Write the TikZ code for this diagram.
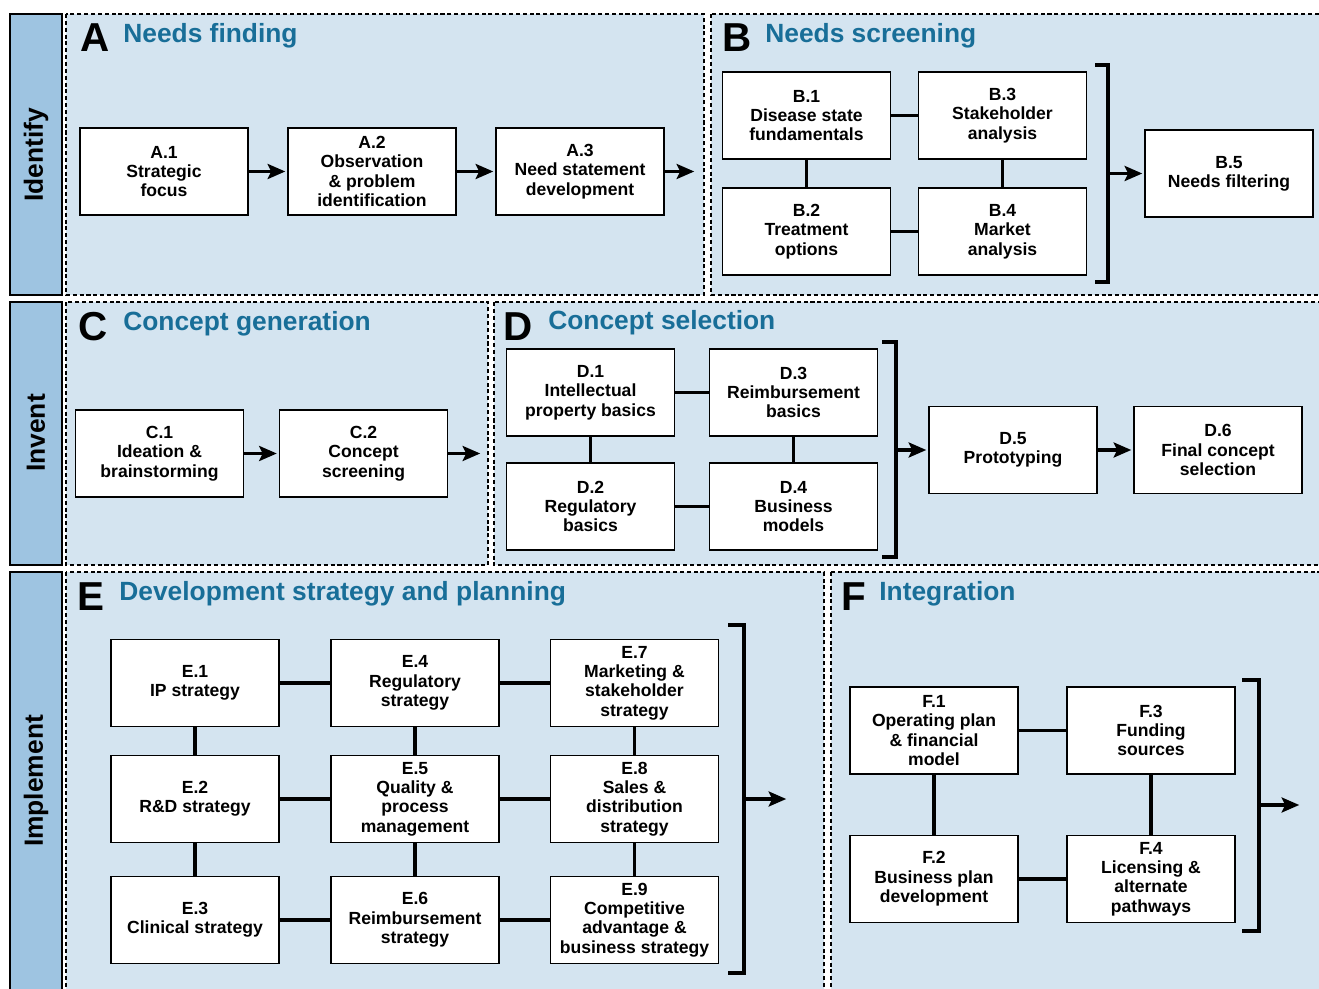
\documentclass[tikz,border=0pt]{standalone}
\usepackage{fontspec}
\setmainfont{Liberation Sans}
\usetikzlibrary{arrows.meta}

\definecolor{panelblue}{RGB}{212,228,240}
\definecolor{sideblue}{RGB}{158,196,225}
\definecolor{titleblue}{RGB}{24,110,152}

\tikzset{
	stage/.style={draw=black, line width=1.1pt, fill=white, align=center,
		minimum width=3.36cm, minimum height=1.74cm, inner sep=1pt,
		font=\fontsize{10}{11}\selectfont\bfseries},
	panel/.style={fill=panelblue, draw=black, line width=1pt, dash pattern=on 2.3pt off 1.6pt},
	sidebar/.style={fill=sideblue, draw=black, line width=1.2pt},
	link/.style={line width=2pt},
	flow/.style={line width=2.2pt, -{Stealth[length=10pt,width=8.5pt,inset=2pt]}, shorten >=1pt},
	bracket/.style={line width=2pt},
	letter/.style={anchor=base west, inner sep=0pt, font=\fontsize{23}{23}\selectfont\bfseries},
	heading/.style={anchor=base west, inner sep=0pt, text=titleblue,
		font=\fontsize{15}{15}\selectfont\bfseries},
	phase/.style={rotate=90, inner sep=0pt, font=\fontsize{15}{15}\selectfont\bfseries}
}

\begin{document}
\begin{tikzpicture}[x=0.02cm, y=-0.02cm]
	\useasboundingbox (0,0) rectangle (1319,989);
	
	% panels
	\draw[panel] (66,14) rectangle (704,295);
	\draw[panel] (711,14) rectangle (1330,295);
	\draw[panel] (66,302) rectangle (488,565);
	\draw[panel] (494,302) rectangle (1330,565);
	\draw[panel] (66,572) rectangle (824,1000);
	\draw[panel] (831,572) rectangle (1330,1000);
	
	\draw[sidebar] (10,14) rectangle (62,295);
	\draw[sidebar] (10,302) rectangle (62,565);
	\draw[sidebar] (10,572) rectangle (62,1000);
	\node[phase] (identify) at (36,155) {Identify};
	\node[phase] (invent) at (36,433) {Invent};
	\node[phase] (implement) at (36,781) {Implement};
	
	\node[letter] (A) at (80,52) {A};
	\node[heading] (A-title) at (123,43) {Needs finding};
	\node[letter] (B) at (722,52) {B};
	\node[heading] (B-title) at (765,43) {Needs screening};
	\node[letter] (C) at (78,341) {C};
	\node[heading] (C-title) at (123,331) {Concept generation};
	\node[letter] (D) at (503,341) {D};
	\node[heading] (D-title) at (548,330) {Concept selection};
	\node[letter] (E) at (77,611) {E};
	\node[heading] (E-title) at (119,601) {Development strategy and planning};
	\node[letter] (F) at (841,611) {F};
	\node[heading] (F-title) at (879,601) {Integration};
	
	% A
	\node[stage] (A1) at (164,171.5) {A.1\\Strategic\\focus};
	\node[stage] (A2) at (372,171.5) {A.2\\Observation\\\& problem\\identification};
	\node[stage] (A3) at (580,171.5) {A.3\\Need statement\\development};
	\coordinate (A-out) at (696,171.5);
	
	% B
	\node[stage] (B1) at (806.5,115.5) {B.1\\Disease state\\fundamentals};
	\node[stage] (B2) at (806.5,231.5) {B.2\\Treatment\\options};
	\node[stage] (B3) at (1002.5,115.5) {B.3\\Stakeholder\\analysis};
	\node[stage] (B4) at (1002.5,231.5) {B.4\\Market\\analysis};
	\node[stage] (B5) at (1229,173.5) {B.5\\Needs filtering};
	\coordinate (B-br) at (1108,173.5);
	
	% C
	\node[stage] (C1) at (159.5,453.5) {C.1\\Ideation \&\\brainstorming};
	\node[stage] (C2) at (363.5,453.5) {C.2\\Concept\\screening};
	\coordinate (C-out) at (482,453.5);
	
	% D
	\node[stage] (D1) at (590.5,392.5) {D.1\\Intellectual\\property basics};
	\node[stage] (D2) at (590.5,506.5) {D.2\\Regulatory\\basics};
	\node[stage] (D3) at (793.5,392.5) {D.3\\Reimbursement\\basics};
	\node[stage] (D4) at (793.5,506.5) {D.4\\Business\\models};
	\node[stage] (D5) at (1013,450) {D.5\\Prototyping};
	\node[stage] (D6) at (1218,450) {D.6\\Final concept\\selection};
	\coordinate (D-br) at (896,450);
	
	% E
	\node[stage] (E1) at (195,683) {E.1\\IP strategy};
	\node[stage] (E2) at (195,799) {E.2\\R\&D strategy};
	\node[stage] (E3) at (195,920) {E.3\\Clinical strategy};
	\node[stage] (E4) at (415,683) {E.4\\Regulatory\\strategy};
	\node[stage] (E5) at (415,799) {E.5\\Quality \&\\process\\management};
	\node[stage] (E6) at (415,920) {E.6\\Reimbursement\\strategy};
	\node[stage] (E7) at (634.5,683) {E.7\\Marketing \&\\stakeholder\\strategy};
	\node[stage] (E8) at (634.5,799) {E.8\\Sales \&\\distribution\\strategy};
	\node[stage] (E9) at (634.5,920) {E.9\\Competitive\\advantage \&\\business strategy};
	\coordinate (E-br) at (744,799);
	\coordinate (E-out) at (788,799);
	
	% F
	\node[stage] (F1) at (934,730.5) {F.1\\Operating plan\\\& financial\\model};
	\node[stage] (F2) at (934,879) {F.2\\Business plan\\development};
	\node[stage] (F3) at (1151,730.5) {F.3\\Funding\\sources};
	\node[stage] (F4) at (1151,879) {F.4\\Licensing \&\\alternate\\pathways};
	\coordinate (F-br) at (1259,805);
	\coordinate (F-out) at (1301,805);
	
	\foreach \a/\b in {B1/B3, B1/B2, B3/B4, B2/B4, D1/D3, D1/D2, D3/D4, D2/D4,
		F1/F3, F1/F2, F3/F4, F2/F4,
		E1/E4, E4/E7, E2/E5, E5/E8, E3/E6, E6/E9,
		E1/E2, E2/E3, E4/E5, E5/E6, E7/E8, E8/E9}
		\draw[link] (\a) -- (\b);
	
	\draw[bracket] (1095,65) -| (1108,282) -- (1095,282);
	\draw[bracket] (882,342) -| (896,557) -- (882,557);
	\draw[bracket] (728,625) -| (744,973) -- (728,973);
	\draw[bracket] (1242,680) -| (1259,931) -- (1242,931);
	
	\foreach \a/\b in {A1/A2, A2/A3, A3/A-out, B-br/B5, C1/C2, C2/C-out,
		D-br/D5, D5/D6, E-br/E-out, F-br/F-out}
		\draw[flow] (\a) -- (\b);
\end{tikzpicture}
\end{document}
